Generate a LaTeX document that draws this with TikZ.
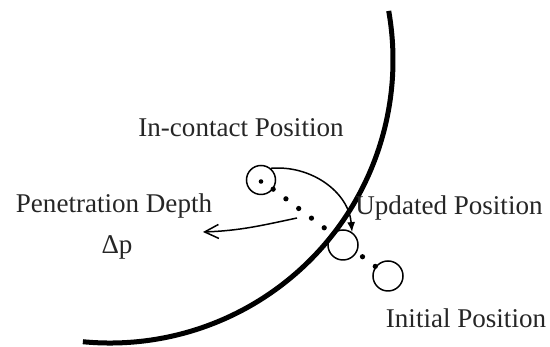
\documentclass[tikz,border=0pt]{standalone}
\usepackage{fontspec}
\setmainfont{Liberation Serif}
\usetikzlibrary{arrows.meta}

\begin{document}
\begin{tikzpicture}[x=0.2mm, y=0.2mm,
    every node/.style={font=\fontsize{15.4}{18}\selectfont, text=black!85},
    ball/.style={circle, draw, line width=0.3mm, minimum size=5.8mm, inner sep=0pt},
    dotline/.style={line width=1.05mm, line cap=round, dash pattern=on 0pt off 3.2mm}]
    \useasboundingbox (0,0) rectangle (550,347);

    % positions of the sphere
    \node[ball] (contact) at (261,167) {};
    \node[ball, minimum size=6mm] (initial) at (388,71) {};
    \fill (contact.center) ++(0,-1.5) circle[radius=2.3];
    \draw[dotline] (contact) -- (initial);
    \node[ball, minimum size=6mm, fill=white] (updated) at (343,102) {};

    % surface
    \draw[line width=1mm] (388.7,336.1) arc[start angle=10, end angle=-95.5, radius=283];

    % labels
    \node (contactlbl) at (241,219) {In-contact Position};
    \node (penlbl) at (114,141) {Penetration Depth};
    \node (deltalbl) at (117,100) {Δp};
    \node (updlbl) at (449,139) {Updated Position};
    \node (initlbl) at (466,29) {Initial Position};

    % arrows
    \coordinate (pentail) at (297,129);
    \coordinate (pentip) at (203,115);
    \draw[line width=0.3mm, -{Latex[length=2mm,width=1.6mm]}] (contact.50) to[out=5, in=95] (updated.55);
    \draw[line width=0.3mm, -{Straight Barb[length=2.8mm,width=2.8mm]}] (pentail) to[out=192, in=2] (pentip);
\end{tikzpicture}
\end{document}
